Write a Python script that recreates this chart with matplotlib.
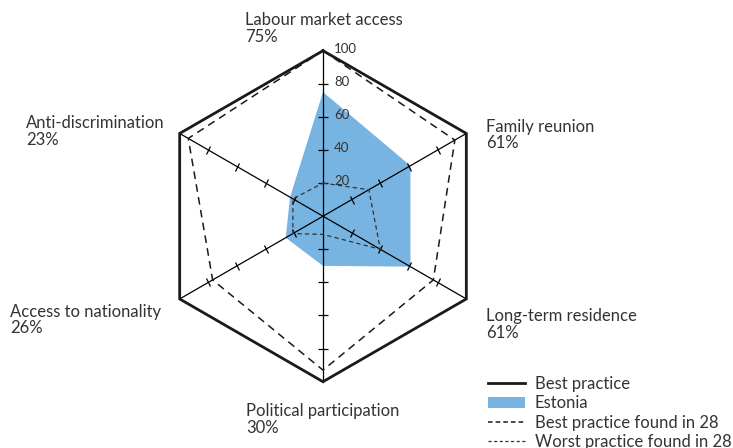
import numpy as np
import matplotlib
matplotlib.use("Agg")
import matplotlib.pyplot as plt
from matplotlib.lines import Line2D
from matplotlib.patches import Patch
from matplotlib.markers import MarkerStyle
from matplotlib.transforms import Affine2D

plt.rcParams['font.family'] = ['Lato', 'DejaVu Sans']

categories = ["Labour market access", "Family reunion", "Long-term residence",
              "Political participation", "Access to nationality", "Anti-discrimination"]
estonia = [75, 61, 61, 30, 26, 23]
best_practice = [100, 100, 100, 100, 100, 100]
best_found = [100, 92, 77, 93, 77, 94]
worst_found = [20, 32, 40, 11, 21, 21]
tick_values = [20, 40, 60, 80, 100]

W, H = 733, 448
fig = plt.figure(figsize=(W / 100, H / 100), dpi=100)

cx, cy, R = 323, 216.2, 165.5
ax = fig.add_axes([(cx - R) / W, (H - cy - R) / H, 2 * R / W, 2 * R / H], projection='polar')
ax.set_ylim(0, 100)
ax.axis('off')

n = len(categories)
theta = np.deg2rad(90 - 60 * np.arange(n))

def closed(a):
    return np.concatenate([a, a[:1]])

th = closed(theta)

text_color = '#333333'
line_black = '#1a1a1a'
blue = '#78b4e2'

# Estonia fill
ax.fill(th, closed(np.array(estonia, float)), color=blue, lw=0, zorder=1)

# radial axis lines
for t in theta:
    ax.plot([t, t], [0, 100], color='black', lw=0.9, zorder=3, clip_on=False)

# tick marks along each axis
for t in theta:
    deg = np.rad2deg(t) + 90
    ms = MarkerStyle('_', transform=Affine2D().rotate_deg(deg))
    ax.plot([t] * 4, tick_values[:4], ls='none', marker=ms, markersize=7,
            markeredgewidth=0.9, color='black', zorder=3, clip_on=False)

# polygons
ax.plot(th, closed(np.array(best_practice, float)), color=line_black, lw=2.0, zorder=4,
        clip_on=False, solid_joinstyle='miter')
ax.plot(th, closed(np.array(best_found, float)), color=line_black, lw=1.1,
        ls=(0, (5, 3.5)), zorder=4, clip_on=False)
ax.plot(th, closed(np.array(worst_found, float)), color='#333333', lw=0.9,
        ls=(0, (3.5, 2.5)), zorder=4, clip_on=False)

# tick labels on the top axis
for v in tick_values:
    ax.annotate(str(v), xy=(theta[0], v), xytext=(11, 3), textcoords='offset pixels',
                ha='left', va='center_baseline', fontsize=9.5, color=text_color)

# category labels
label_pos = [(245, 25.3), (486, 131.7), (486, 321), (246, 416), (10, 316.7), (26, 128.3)]
for (x, y), name, v in zip(label_pos, categories, estonia):
    fig.text(x / W, 1 - y / H, name, ha='left', va='baseline', fontsize=12, color=text_color)
    fig.text(x / W, 1 - (y + 16.6) / H, f"{v}%", ha='left', va='baseline', fontsize=12,
             color=text_color)

handles = [
    Line2D([], [], color=line_black, lw=2.0),
    Patch(facecolor=blue, edgecolor='none'),
    Line2D([], [], color=line_black, lw=1.1, ls=(0, (3, 2))),
    Line2D([], [], color='#333333', lw=0.9, ls=(0, (2.5, 2))),
]
labels = ["Best practice", "Estonia", "Best practice found in 28", "Worst practice found in 28"]
fig.legend(handles, labels, loc='upper left', bbox_to_anchor=(488 / W, 1 - 376 / H),
           frameon=False, fontsize=12, handlelength=2.2, handletextpad=0.6,
           labelspacing=0.2, borderpad=0, borderaxespad=0, labelcolor=text_color,
           handleheight=0.72)

fig.savefig('out.png', dpi=100)
